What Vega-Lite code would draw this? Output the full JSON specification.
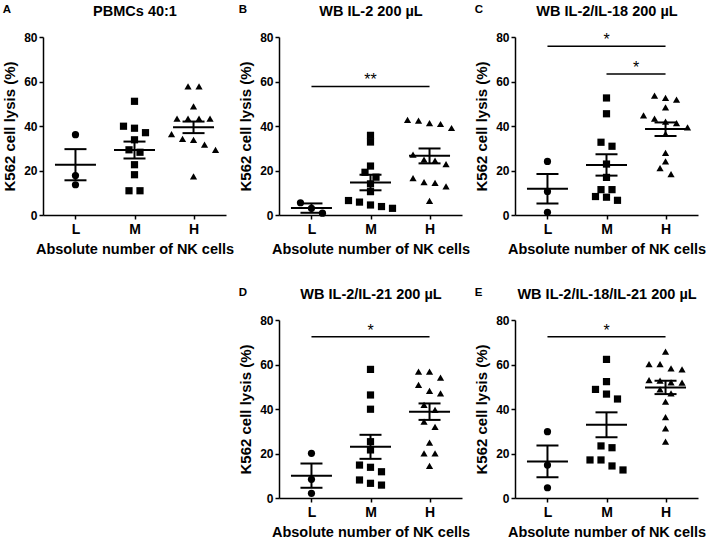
{
  "$schema": "https://vega.github.io/schema/vega-lite/v6.json",
  "background": "white",
  "padding": {"left": 2, "top": 3, "right": 2, "bottom": 2},
  "bounds": "flush",
  "datasets": {
    "pts": [
      {"panel":"A","group":"L","value":36.1},{"panel":"A","group":"L","value":17.7},{"panel":"A","group":"L","value":13.6},
      {"panel":"A","group":"M","value":51.1},{"panel":"A","group":"M","value":39.9},{"panel":"A","group":"M","value":39.0},{"panel":"A","group":"M","value":37.0},{"panel":"A","group":"M","value":33.8},{"panel":"A","group":"M","value":29.3},{"panel":"A","group":"M","value":28.2},{"panel":"A","group":"M","value":22.6},{"panel":"A","group":"M","value":18.1},{"panel":"A","group":"M","value":10.9},{"panel":"A","group":"M","value":10.9},
      {"panel":"A","group":"H","value":57.8},{"panel":"A","group":"H","value":57.8},{"panel":"A","group":"H","value":48.8},{"panel":"A","group":"H","value":43.3},{"panel":"A","group":"H","value":43.3},{"panel":"A","group":"H","value":43.3},{"panel":"A","group":"H","value":43.3},{"panel":"A","group":"H","value":36.4},{"panel":"A","group":"H","value":34.2},{"panel":"A","group":"H","value":33.8},{"panel":"A","group":"H","value":31.6},{"panel":"A","group":"H","value":29.3},{"panel":"A","group":"H","value":17.4},
      {"panel":"B","group":"L","value":5.5},{"panel":"B","group":"L","value":3.0},{"panel":"B","group":"L","value":0.8},
      {"panel":"B","group":"M","value":35.8},{"panel":"B","group":"M","value":32.8},{"panel":"B","group":"M","value":22.0},{"panel":"B","group":"M","value":19.2},{"panel":"B","group":"M","value":17.0},{"panel":"B","group":"M","value":14.0},{"panel":"B","group":"M","value":10.5},{"panel":"B","group":"M","value":6.5},{"panel":"B","group":"M","value":5.8},{"panel":"B","group":"M","value":4.5},{"panel":"B","group":"M","value":3.8},{"panel":"B","group":"M","value":3.0},
      {"panel":"B","group":"H","value":42.8},{"panel":"B","group":"H","value":42.4},{"panel":"B","group":"H","value":41.3},{"panel":"B","group":"H","value":40.9},{"panel":"B","group":"H","value":39.1},{"panel":"B","group":"H","value":27.1},{"panel":"B","group":"H","value":24.9},{"panel":"B","group":"H","value":24.4},{"panel":"B","group":"H","value":22.9},{"panel":"B","group":"H","value":16.6},{"panel":"B","group":"H","value":14.8},{"panel":"B","group":"H","value":14.4},{"panel":"B","group":"H","value":12.9},{"panel":"B","group":"H","value":6.4},
      {"panel":"C","group":"L","value":24.1},{"panel":"C","group":"L","value":10.6},{"panel":"C","group":"L","value":1.2},
      {"panel":"C","group":"M","value":52.6},{"panel":"C","group":"M","value":45.5},{"panel":"C","group":"M","value":32.7},{"panel":"C","group":"M","value":30.9},{"panel":"C","group":"M","value":22.9},{"panel":"C","group":"M","value":16.9},{"panel":"C","group":"M","value":11.4},{"panel":"C","group":"M","value":11.4},{"panel":"C","group":"M","value":8.3},{"panel":"C","group":"M","value":8.0},{"panel":"C","group":"M","value":6.6},
      {"panel":"C","group":"H","value":53.6},{"panel":"C","group":"H","value":52.6},{"panel":"C","group":"H","value":51.8},{"panel":"C","group":"H","value":48.4},{"panel":"C","group":"H","value":44.8},{"panel":"C","group":"H","value":43.3},{"panel":"C","group":"H","value":42.0},{"panel":"C","group":"H","value":41.3},{"panel":"C","group":"H","value":39.4},{"panel":"C","group":"H","value":36.5},{"panel":"C","group":"H","value":27.9},{"panel":"C","group":"H","value":24.1},{"panel":"C","group":"H","value":21.1},{"panel":"C","group":"H","value":18.4},
      {"panel":"D","group":"L","value":20.1},{"panel":"D","group":"L","value":8.4},{"panel":"D","group":"L","value":2.1},
      {"panel":"D","group":"M","value":57.8},{"panel":"D","group":"M","value":46.3},{"panel":"D","group":"M","value":39.9},{"panel":"D","group":"M","value":25.3},{"panel":"D","group":"M","value":21.6},{"panel":"D","group":"M","value":14.8},{"panel":"D","group":"M","value":13.8},{"panel":"D","group":"M","value":11.8},{"panel":"D","group":"M","value":8.1},{"panel":"D","group":"M","value":6.6},{"panel":"D","group":"M","value":5.8},
      {"panel":"D","group":"H","value":56.8},{"panel":"D","group":"H","value":56.8},{"panel":"D","group":"H","value":54.1},{"panel":"D","group":"H","value":50.8},{"panel":"D","group":"H","value":48.2},{"panel":"D","group":"H","value":47.0},{"panel":"D","group":"H","value":41.8},{"panel":"D","group":"H","value":39.6},{"panel":"D","group":"H","value":34.3},{"panel":"D","group":"H","value":32.0},{"panel":"D","group":"H","value":24.9},{"panel":"D","group":"H","value":20.1},{"panel":"D","group":"H","value":20.1},{"panel":"D","group":"H","value":14.4},
      {"panel":"E","group":"L","value":29.8},{"panel":"E","group":"L","value":14.8},{"panel":"E","group":"L","value":4.6},
      {"panel":"E","group":"M","value":62.3},{"panel":"E","group":"M","value":52.3},{"panel":"E","group":"M","value":48.8},{"panel":"E","group":"M","value":46.7},{"panel":"E","group":"M","value":44.5},{"panel":"E","group":"M","value":23.4},{"panel":"E","group":"M","value":22.6},{"panel":"E","group":"M","value":17.1},{"panel":"E","group":"M","value":17.1},{"panel":"E","group":"M","value":14.4},{"panel":"E","group":"M","value":12.6},
      {"panel":"E","group":"H","value":65.8},{"panel":"E","group":"H","value":60.2},{"panel":"E","group":"H","value":60.2},{"panel":"E","group":"H","value":58.3},{"panel":"E","group":"H","value":57.8},{"panel":"E","group":"H","value":53.0},{"panel":"E","group":"H","value":52.7},{"panel":"E","group":"H","value":52.0},{"panel":"E","group":"H","value":51.8},{"panel":"E","group":"H","value":48.8},{"panel":"E","group":"H","value":47.0},{"panel":"E","group":"H","value":43.3},{"panel":"E","group":"H","value":36.3},{"panel":"E","group":"H","value":31.3},{"panel":"E","group":"H","value":25.3}
    ],
    "sum": [
      {"panel":"A","group":"L","mean":22.6,"lo":15.6,"hi":29.6},
      {"panel":"A","group":"M","mean":29.2,"lo":25.4,"hi":33.0},
      {"panel":"A","group":"H","mean":39.4,"lo":36.8,"hi":42.0},
      {"panel":"B","group":"L","mean":3.1,"lo":1.0,"hi":5.2},
      {"panel":"B","group":"M","mean":14.6,"lo":11.1,"hi":18.1},
      {"panel":"B","group":"H","mean":26.6,"lo":23.2,"hi":29.9},
      {"panel":"C","group":"L","mean":11.8,"lo":5.2,"hi":18.4},
      {"panel":"C","group":"M","mean":22.5,"lo":17.7,"hi":27.3},
      {"panel":"C","group":"H","mean":38.6,"lo":35.5,"hi":41.6},
      {"panel":"D","group":"L","mean":10.0,"lo":4.6,"hi":15.5},
      {"panel":"D","group":"M","mean":23.0,"lo":17.6,"hi":28.4},
      {"panel":"D","group":"H","mean":38.8,"lo":35.1,"hi":42.5},
      {"panel":"E","group":"L","mean":16.4,"lo":9.3,"hi":23.6},
      {"panel":"E","group":"M","mean":32.9,"lo":27.3,"hi":38.5},
      {"panel":"E","group":"H","mean":49.7,"lo":46.7,"hi":52.7}
    ],
    "sig": [
      {"panel":"B","from":"L","to":"H","y":57.8,"label":"**"},
      {"panel":"C","from":"L","to":"H","y":75.8,"label":"*"},
      {"panel":"C","from":"M","to":"H","y":63.4,"label":"*"},
      {"panel":"D","from":"L","to":"H","y":72.5,"label":"*"},
      {"panel":"E","from":"L","to":"H","y":72.5,"label":"*"}
    ]
  },
  "columns": 3,
  "spacing": {"row": 105, "column": 53},
  "concat": [
    {
      "title": {"text": "A"},
      "width": 183, "height": 178,
      "resolve": {"axis": {"x": "independent"}},
      "layer": [
        {
          "data": {"name": "pts"},
          "transform": [
            {"filter": "datum.panel === 'A'"},
            {"window": [{"op": "lag", "field": "value", "as": "prev"}], "groupby": ["group"], "sort": [{"field": "value", "order": "descending"}]},
            {"calculate": "datum.prev == null || datum.prev - datum.value > 2.8 ? 1 : 0", "as": "brk"},
            {"window": [{"op": "sum", "field": "brk", "as": "cid"}], "groupby": ["group"], "sort": [{"field": "value", "order": "descending"}]},
            {"window": [{"op": "row_number", "as": "r"}, {"op": "count", "as": "n"}], "groupby": ["group", "cid"], "sort": [{"field": "value", "order": "descending"}], "frame": [null, null]},
            {"calculate": "datum.r - (datum.n + 1) / 2", "as": "off"}
          ],
          "mark": {"type": "point", "filled": true, "color": "black", "opacity": 1},
          "encoding": {
            "x": {"field": "group", "type": "nominal", "scale": {"type": "point", "domain": ["L","M","H"], "padding": 0.55}, "axis": {"title": "Absolute number of NK cells"}},
            "xOffset": {"field": "off", "type": "quantitative", "scale": {"domain": [-1, 1], "range": [-11, 11]}},
            "y": {"field": "value", "type": "quantitative", "scale": {"domain": [0, 80], "nice": false}, "axis": {"title": "K562 cell lysis (%)", "values": [0,20,40,60,80]}},
            "shape": {"field": "group", "type": "nominal", "scale": {"domain": ["L","M","H"], "range": ["circle","square","triangle-up"]}, "legend": null},
            "size": {"field": "group", "type": "nominal", "scale": {"domain": ["L","M","H"], "range": [52, 52, 66]}, "legend": null}
          }
        },
        {
          "data": {"name": "sum"},
          "transform": [{"filter": "datum.panel === 'A'"}],
          "mark": {"type": "tick", "size": 41, "thickness": 2, "color": "black", "opacity": 1},
          "encoding": {
            "x": {"field": "group", "type": "nominal", "scale": {"type": "point", "domain": ["L","M","H"], "padding": 0.55}, "axis": {"orient": "top", "title": "PBMCs 40:1", "labels": false, "ticks": false, "domain": false, "titlePadding": 19, "titleFontSize": 14.5}},
            "y": {"field": "mean", "type": "quantitative", "axis": {"title": "K562 cell lysis (%)", "values": [0,20,40,60,80]}}
          }
        },
        {
          "data": {"name": "sum"},
          "transform": [{"filter": "datum.panel === 'A'"}],
          "mark": {"type": "rule", "strokeWidth": 2, "color": "black"},
          "encoding": {
            "x": {"field": "group", "type": "nominal", "axis": null},
            "y": {"field": "lo", "type": "quantitative", "axis": {"title": "K562 cell lysis (%)", "values": [0,20,40,60,80]}},
            "y2": {"field": "hi"}
          }
        },
        {
          "data": {"name": "sum"},
          "transform": [{"filter": "datum.panel === 'A'"}],
          "mark": {"type": "tick", "size": 22, "thickness": 2, "color": "black", "opacity": 1},
          "encoding": {
            "x": {"field": "group", "type": "nominal", "axis": null},
            "y": {"field": "lo", "type": "quantitative", "axis": {"title": "K562 cell lysis (%)", "values": [0,20,40,60,80]}}
          }
        },
        {
          "data": {"name": "sum"},
          "transform": [{"filter": "datum.panel === 'A'"}],
          "mark": {"type": "tick", "size": 22, "thickness": 2, "color": "black", "opacity": 1},
          "encoding": {
            "x": {"field": "group", "type": "nominal", "axis": null},
            "y": {"field": "hi", "type": "quantitative", "axis": {"title": "K562 cell lysis (%)", "values": [0,20,40,60,80]}}
          }
        }
      ]
    },
    {
      "title": {"text": "B"},
      "width": 183, "height": 178,
      "resolve": {"axis": {"x": "independent"}},
      "layer": [
        {
          "data": {"name": "pts"},
          "transform": [
            {"filter": "datum.panel === 'B'"},
            {"window": [{"op": "lag", "field": "value", "as": "prev"}], "groupby": ["group"], "sort": [{"field": "value", "order": "descending"}]},
            {"calculate": "datum.prev == null || datum.prev - datum.value > 2.8 ? 1 : 0", "as": "brk"},
            {"window": [{"op": "sum", "field": "brk", "as": "cid"}], "groupby": ["group"], "sort": [{"field": "value", "order": "descending"}]},
            {"window": [{"op": "row_number", "as": "r"}, {"op": "count", "as": "n"}], "groupby": ["group", "cid"], "sort": [{"field": "value", "order": "descending"}], "frame": [null, null]},
            {"calculate": "datum.r - (datum.n + 1) / 2", "as": "off"}
          ],
          "mark": {"type": "point", "filled": true, "color": "black", "opacity": 1},
          "encoding": {
            "x": {"field": "group", "type": "nominal", "scale": {"type": "point", "domain": ["L","M","H"], "padding": 0.55}, "axis": {"title": "Absolute number of NK cells"}},
            "xOffset": {"field": "off", "type": "quantitative", "scale": {"domain": [-1, 1], "range": [-11, 11]}},
            "y": {"field": "value", "type": "quantitative", "scale": {"domain": [0, 80], "nice": false}, "axis": {"title": "K562 cell lysis (%)", "values": [0,20,40,60,80]}},
            "shape": {"field": "group", "type": "nominal", "scale": {"domain": ["L","M","H"], "range": ["circle","square","triangle-up"]}, "legend": null},
            "size": {"field": "group", "type": "nominal", "scale": {"domain": ["L","M","H"], "range": [52, 52, 66]}, "legend": null}
          }
        },
        {
          "data": {"name": "sum"},
          "transform": [{"filter": "datum.panel === 'B'"}],
          "mark": {"type": "tick", "size": 41, "thickness": 2, "color": "black", "opacity": 1},
          "encoding": {
            "x": {"field": "group", "type": "nominal", "scale": {"type": "point", "domain": ["L","M","H"], "padding": 0.55}, "axis": {"orient": "top", "title": "WB IL-2 200 µL", "labels": false, "ticks": false, "domain": false, "titlePadding": 19, "titleFontSize": 14.5}},
            "y": {"field": "mean", "type": "quantitative", "axis": {"title": "K562 cell lysis (%)", "values": [0,20,40,60,80]}}
          }
        },
        {
          "data": {"name": "sum"},
          "transform": [{"filter": "datum.panel === 'B'"}],
          "mark": {"type": "rule", "strokeWidth": 2, "color": "black"},
          "encoding": {
            "x": {"field": "group", "type": "nominal", "axis": null},
            "y": {"field": "lo", "type": "quantitative", "axis": {"title": "K562 cell lysis (%)", "values": [0,20,40,60,80]}},
            "y2": {"field": "hi"}
          }
        },
        {
          "data": {"name": "sum"},
          "transform": [{"filter": "datum.panel === 'B'"}],
          "mark": {"type": "tick", "size": 22, "thickness": 2, "color": "black", "opacity": 1},
          "encoding": {
            "x": {"field": "group", "type": "nominal", "axis": null},
            "y": {"field": "lo", "type": "quantitative", "axis": {"title": "K562 cell lysis (%)", "values": [0,20,40,60,80]}}
          }
        },
        {
          "data": {"name": "sum"},
          "transform": [{"filter": "datum.panel === 'B'"}],
          "mark": {"type": "tick", "size": 22, "thickness": 2, "color": "black", "opacity": 1},
          "encoding": {
            "x": {"field": "group", "type": "nominal", "axis": null},
            "y": {"field": "hi", "type": "quantitative", "axis": {"title": "K562 cell lysis (%)", "values": [0,20,40,60,80]}}
          }
        },
        {
          "data": {"name": "sig"},
          "transform": [{"filter": "datum.panel === 'B'"}],
          "mark": {"type": "rule", "strokeWidth": 1.5, "color": "black"},
          "encoding": {
            "x": {"field": "from", "type": "nominal", "axis": null},
            "x2": {"field": "to"},
            "y": {"field": "y", "type": "quantitative", "axis": {"title": "K562 cell lysis (%)", "values": [0,20,40,60,80]}}
          }
        },
        {
          "data": {"name": "sig"},
          "transform": [{"filter": "datum.panel === 'B' && datum.from === 'L'"}],
          "mark": {"type": "text", "fontSize": 16, "font": "Liberation Sans", "baseline": "alphabetic", "dy": -1, "color": "black"},
          "encoding": {
            "x": {"datum": "M", "type": "nominal", "axis": null},
            "y": {"field": "y", "type": "quantitative", "axis": {"title": "K562 cell lysis (%)", "values": [0,20,40,60,80]}},
            "text": {"field": "label"}
          }
        }
      ]
    },
    {
      "title": {"text": "C"},
      "width": 183, "height": 178,
      "resolve": {"axis": {"x": "independent"}},
      "layer": [
        {
          "data": {"name": "pts"},
          "transform": [
            {"filter": "datum.panel === 'C'"},
            {"window": [{"op": "lag", "field": "value", "as": "prev"}], "groupby": ["group"], "sort": [{"field": "value", "order": "descending"}]},
            {"calculate": "datum.prev == null || datum.prev - datum.value > 2.8 ? 1 : 0", "as": "brk"},
            {"window": [{"op": "sum", "field": "brk", "as": "cid"}], "groupby": ["group"], "sort": [{"field": "value", "order": "descending"}]},
            {"window": [{"op": "row_number", "as": "r"}, {"op": "count", "as": "n"}], "groupby": ["group", "cid"], "sort": [{"field": "value", "order": "descending"}], "frame": [null, null]},
            {"calculate": "datum.r - (datum.n + 1) / 2", "as": "off"}
          ],
          "mark": {"type": "point", "filled": true, "color": "black", "opacity": 1},
          "encoding": {
            "x": {"field": "group", "type": "nominal", "scale": {"type": "point", "domain": ["L","M","H"], "padding": 0.55}, "axis": {"title": "Absolute number of NK cells"}},
            "xOffset": {"field": "off", "type": "quantitative", "scale": {"domain": [-1, 1], "range": [-11, 11]}},
            "y": {"field": "value", "type": "quantitative", "scale": {"domain": [0, 80], "nice": false}, "axis": {"title": "K562 cell lysis (%)", "values": [0,20,40,60,80]}},
            "shape": {"field": "group", "type": "nominal", "scale": {"domain": ["L","M","H"], "range": ["circle","square","triangle-up"]}, "legend": null},
            "size": {"field": "group", "type": "nominal", "scale": {"domain": ["L","M","H"], "range": [52, 52, 66]}, "legend": null}
          }
        },
        {
          "data": {"name": "sum"},
          "transform": [{"filter": "datum.panel === 'C'"}],
          "mark": {"type": "tick", "size": 41, "thickness": 2, "color": "black", "opacity": 1},
          "encoding": {
            "x": {"field": "group", "type": "nominal", "scale": {"type": "point", "domain": ["L","M","H"], "padding": 0.55}, "axis": {"orient": "top", "title": "WB IL-2/IL-18 200 µL", "labels": false, "ticks": false, "domain": false, "titlePadding": 19, "titleFontSize": 14.5}},
            "y": {"field": "mean", "type": "quantitative", "axis": {"title": "K562 cell lysis (%)", "values": [0,20,40,60,80]}}
          }
        },
        {
          "data": {"name": "sum"},
          "transform": [{"filter": "datum.panel === 'C'"}],
          "mark": {"type": "rule", "strokeWidth": 2, "color": "black"},
          "encoding": {
            "x": {"field": "group", "type": "nominal", "axis": null},
            "y": {"field": "lo", "type": "quantitative", "axis": {"title": "K562 cell lysis (%)", "values": [0,20,40,60,80]}},
            "y2": {"field": "hi"}
          }
        },
        {
          "data": {"name": "sum"},
          "transform": [{"filter": "datum.panel === 'C'"}],
          "mark": {"type": "tick", "size": 22, "thickness": 2, "color": "black", "opacity": 1},
          "encoding": {
            "x": {"field": "group", "type": "nominal", "axis": null},
            "y": {"field": "lo", "type": "quantitative", "axis": {"title": "K562 cell lysis (%)", "values": [0,20,40,60,80]}}
          }
        },
        {
          "data": {"name": "sum"},
          "transform": [{"filter": "datum.panel === 'C'"}],
          "mark": {"type": "tick", "size": 22, "thickness": 2, "color": "black", "opacity": 1},
          "encoding": {
            "x": {"field": "group", "type": "nominal", "axis": null},
            "y": {"field": "hi", "type": "quantitative", "axis": {"title": "K562 cell lysis (%)", "values": [0,20,40,60,80]}}
          }
        },
        {
          "data": {"name": "sig"},
          "transform": [{"filter": "datum.panel === 'C'"}],
          "mark": {"type": "rule", "strokeWidth": 1.5, "color": "black"},
          "encoding": {
            "x": {"field": "from", "type": "nominal", "axis": null},
            "x2": {"field": "to"},
            "y": {"field": "y", "type": "quantitative", "axis": {"title": "K562 cell lysis (%)", "values": [0,20,40,60,80]}}
          }
        },
        {
          "data": {"name": "sig"},
          "transform": [{"filter": "datum.panel === 'C' && datum.from === 'L'"}],
          "mark": {"type": "text", "fontSize": 16, "font": "Liberation Sans", "baseline": "alphabetic", "dy": -1, "color": "black"},
          "encoding": {
            "x": {"datum": "M", "type": "nominal", "axis": null},
            "y": {"field": "y", "type": "quantitative", "axis": {"title": "K562 cell lysis (%)", "values": [0,20,40,60,80]}},
            "text": {"field": "label"}
          }
        },
        {
          "data": {"name": "sig"},
          "transform": [{"filter": "datum.panel === 'C' && datum.from === 'M'"}],
          "mark": {"type": "text", "fontSize": 16, "font": "Liberation Sans", "baseline": "alphabetic", "dy": -1, "dx": -29.5, "color": "black"},
          "encoding": {
            "x": {"datum": "H", "type": "nominal", "axis": null},
            "y": {"field": "y", "type": "quantitative", "axis": {"title": "K562 cell lysis (%)", "values": [0,20,40,60,80]}},
            "text": {"field": "label"}
          }
        }
      ]
    },
    {
      "width": 183, "height": 178,
      "data": {"values": []},
      "mark": "point",
      "encoding": {}
    },
    {
      "title": {"text": "D"},
      "width": 183, "height": 178,
      "resolve": {"axis": {"x": "independent"}},
      "layer": [
        {
          "data": {"name": "pts"},
          "transform": [
            {"filter": "datum.panel === 'D'"},
            {"window": [{"op": "lag", "field": "value", "as": "prev"}], "groupby": ["group"], "sort": [{"field": "value", "order": "descending"}]},
            {"calculate": "datum.prev == null || datum.prev - datum.value > 2.8 ? 1 : 0", "as": "brk"},
            {"window": [{"op": "sum", "field": "brk", "as": "cid"}], "groupby": ["group"], "sort": [{"field": "value", "order": "descending"}]},
            {"window": [{"op": "row_number", "as": "r"}, {"op": "count", "as": "n"}], "groupby": ["group", "cid"], "sort": [{"field": "value", "order": "descending"}], "frame": [null, null]},
            {"calculate": "datum.r - (datum.n + 1) / 2", "as": "off"}
          ],
          "mark": {"type": "point", "filled": true, "color": "black", "opacity": 1},
          "encoding": {
            "x": {"field": "group", "type": "nominal", "scale": {"type": "point", "domain": ["L","M","H"], "padding": 0.55}, "axis": {"title": "Absolute number of NK cells"}},
            "xOffset": {"field": "off", "type": "quantitative", "scale": {"domain": [-1, 1], "range": [-11, 11]}},
            "y": {"field": "value", "type": "quantitative", "scale": {"domain": [0, 80], "nice": false}, "axis": {"title": "K562 cell lysis (%)", "values": [0,20,40,60,80]}},
            "shape": {"field": "group", "type": "nominal", "scale": {"domain": ["L","M","H"], "range": ["circle","square","triangle-up"]}, "legend": null},
            "size": {"field": "group", "type": "nominal", "scale": {"domain": ["L","M","H"], "range": [52, 52, 66]}, "legend": null}
          }
        },
        {
          "data": {"name": "sum"},
          "transform": [{"filter": "datum.panel === 'D'"}],
          "mark": {"type": "tick", "size": 41, "thickness": 2, "color": "black", "opacity": 1},
          "encoding": {
            "x": {"field": "group", "type": "nominal", "scale": {"type": "point", "domain": ["L","M","H"], "padding": 0.55}, "axis": {"orient": "top", "title": "WB IL-2/IL-21 200 µL", "labels": false, "ticks": false, "domain": false, "titlePadding": 19, "titleFontSize": 14.5}},
            "y": {"field": "mean", "type": "quantitative", "axis": {"title": "K562 cell lysis (%)", "values": [0,20,40,60,80]}}
          }
        },
        {
          "data": {"name": "sum"},
          "transform": [{"filter": "datum.panel === 'D'"}],
          "mark": {"type": "rule", "strokeWidth": 2, "color": "black"},
          "encoding": {
            "x": {"field": "group", "type": "nominal", "axis": null},
            "y": {"field": "lo", "type": "quantitative", "axis": {"title": "K562 cell lysis (%)", "values": [0,20,40,60,80]}},
            "y2": {"field": "hi"}
          }
        },
        {
          "data": {"name": "sum"},
          "transform": [{"filter": "datum.panel === 'D'"}],
          "mark": {"type": "tick", "size": 22, "thickness": 2, "color": "black", "opacity": 1},
          "encoding": {
            "x": {"field": "group", "type": "nominal", "axis": null},
            "y": {"field": "lo", "type": "quantitative", "axis": {"title": "K562 cell lysis (%)", "values": [0,20,40,60,80]}}
          }
        },
        {
          "data": {"name": "sum"},
          "transform": [{"filter": "datum.panel === 'D'"}],
          "mark": {"type": "tick", "size": 22, "thickness": 2, "color": "black", "opacity": 1},
          "encoding": {
            "x": {"field": "group", "type": "nominal", "axis": null},
            "y": {"field": "hi", "type": "quantitative", "axis": {"title": "K562 cell lysis (%)", "values": [0,20,40,60,80]}}
          }
        },
        {
          "data": {"name": "sig"},
          "transform": [{"filter": "datum.panel === 'D'"}],
          "mark": {"type": "rule", "strokeWidth": 1.5, "color": "black"},
          "encoding": {
            "x": {"field": "from", "type": "nominal", "axis": null},
            "x2": {"field": "to"},
            "y": {"field": "y", "type": "quantitative", "axis": {"title": "K562 cell lysis (%)", "values": [0,20,40,60,80]}}
          }
        },
        {
          "data": {"name": "sig"},
          "transform": [{"filter": "datum.panel === 'D' && datum.from === 'L'"}],
          "mark": {"type": "text", "fontSize": 16, "font": "Liberation Sans", "baseline": "alphabetic", "dy": -1, "color": "black"},
          "encoding": {
            "x": {"datum": "M", "type": "nominal", "axis": null},
            "y": {"field": "y", "type": "quantitative", "axis": {"title": "K562 cell lysis (%)", "values": [0,20,40,60,80]}},
            "text": {"field": "label"}
          }
        }
      ]
    },
    {
      "title": {"text": "E"},
      "width": 183, "height": 178,
      "resolve": {"axis": {"x": "independent"}},
      "layer": [
        {
          "data": {"name": "pts"},
          "transform": [
            {"filter": "datum.panel === 'E'"},
            {"window": [{"op": "lag", "field": "value", "as": "prev"}], "groupby": ["group"], "sort": [{"field": "value", "order": "descending"}]},
            {"calculate": "datum.prev == null || datum.prev - datum.value > 2.8 ? 1 : 0", "as": "brk"},
            {"window": [{"op": "sum", "field": "brk", "as": "cid"}], "groupby": ["group"], "sort": [{"field": "value", "order": "descending"}]},
            {"window": [{"op": "row_number", "as": "r"}, {"op": "count", "as": "n"}], "groupby": ["group", "cid"], "sort": [{"field": "value", "order": "descending"}], "frame": [null, null]},
            {"calculate": "datum.r - (datum.n + 1) / 2", "as": "off"}
          ],
          "mark": {"type": "point", "filled": true, "color": "black", "opacity": 1},
          "encoding": {
            "x": {"field": "group", "type": "nominal", "scale": {"type": "point", "domain": ["L","M","H"], "padding": 0.55}, "axis": {"title": "Absolute number of NK cells"}},
            "xOffset": {"field": "off", "type": "quantitative", "scale": {"domain": [-1, 1], "range": [-11, 11]}},
            "y": {"field": "value", "type": "quantitative", "scale": {"domain": [0, 80], "nice": false}, "axis": {"title": "K562 cell lysis (%)", "values": [0,20,40,60,80]}},
            "shape": {"field": "group", "type": "nominal", "scale": {"domain": ["L","M","H"], "range": ["circle","square","triangle-up"]}, "legend": null},
            "size": {"field": "group", "type": "nominal", "scale": {"domain": ["L","M","H"], "range": [52, 52, 66]}, "legend": null}
          }
        },
        {
          "data": {"name": "sum"},
          "transform": [{"filter": "datum.panel === 'E'"}],
          "mark": {"type": "tick", "size": 41, "thickness": 2, "color": "black", "opacity": 1},
          "encoding": {
            "x": {"field": "group", "type": "nominal", "scale": {"type": "point", "domain": ["L","M","H"], "padding": 0.55}, "axis": {"orient": "top", "title": "WB IL-2/IL-18/IL-21 200 µL", "labels": false, "ticks": false, "domain": false, "titlePadding": 19, "titleFontSize": 14.5}},
            "y": {"field": "mean", "type": "quantitative", "axis": {"title": "K562 cell lysis (%)", "values": [0,20,40,60,80]}}
          }
        },
        {
          "data": {"name": "sum"},
          "transform": [{"filter": "datum.panel === 'E'"}],
          "mark": {"type": "rule", "strokeWidth": 2, "color": "black"},
          "encoding": {
            "x": {"field": "group", "type": "nominal", "axis": null},
            "y": {"field": "lo", "type": "quantitative", "axis": {"title": "K562 cell lysis (%)", "values": [0,20,40,60,80]}},
            "y2": {"field": "hi"}
          }
        },
        {
          "data": {"name": "sum"},
          "transform": [{"filter": "datum.panel === 'E'"}],
          "mark": {"type": "tick", "size": 22, "thickness": 2, "color": "black", "opacity": 1},
          "encoding": {
            "x": {"field": "group", "type": "nominal", "axis": null},
            "y": {"field": "lo", "type": "quantitative", "axis": {"title": "K562 cell lysis (%)", "values": [0,20,40,60,80]}}
          }
        },
        {
          "data": {"name": "sum"},
          "transform": [{"filter": "datum.panel === 'E'"}],
          "mark": {"type": "tick", "size": 22, "thickness": 2, "color": "black", "opacity": 1},
          "encoding": {
            "x": {"field": "group", "type": "nominal", "axis": null},
            "y": {"field": "hi", "type": "quantitative", "axis": {"title": "K562 cell lysis (%)", "values": [0,20,40,60,80]}}
          }
        },
        {
          "data": {"name": "sig"},
          "transform": [{"filter": "datum.panel === 'E'"}],
          "mark": {"type": "rule", "strokeWidth": 1.5, "color": "black"},
          "encoding": {
            "x": {"field": "from", "type": "nominal", "axis": null},
            "x2": {"field": "to"},
            "y": {"field": "y", "type": "quantitative", "axis": {"title": "K562 cell lysis (%)", "values": [0,20,40,60,80]}}
          }
        },
        {
          "data": {"name": "sig"},
          "transform": [{"filter": "datum.panel === 'E' && datum.from === 'L'"}],
          "mark": {"type": "text", "fontSize": 16, "font": "Liberation Sans", "baseline": "alphabetic", "dy": -1, "color": "black"},
          "encoding": {
            "x": {"datum": "M", "type": "nominal", "axis": null},
            "y": {"field": "y", "type": "quantitative", "axis": {"title": "K562 cell lysis (%)", "values": [0,20,40,60,80]}},
            "text": {"field": "label"}
          }
        }
      ]
    }
  ],
  "config": {
    "view": {"stroke": null},
    "font": "Liberation Sans",
    "title": {"anchor": "start", "frame": "bounds", "fontSize": 11.5, "fontWeight": "bold", "color": "black", "font": "Liberation Sans", "offset": -12},
    "axis": {"grid": false, "domainColor": "black", "domainWidth": 1.5, "tickColor": "black", "tickWidth": 1.5, "tickSize": 4, "labelColor": "black", "labelFont": "Liberation Sans", "labelFontWeight": "bold", "labelFontSize": 12, "titleColor": "black", "titleFont": "Liberation Sans", "titleFontWeight": "bold", "titleFontSize": 15},
    "axisX": {"labelAngle": 0, "labelFontSize": 14, "labelPadding": 3, "titlePadding": 6, "titleFontSize": 14.5},
    "axisY": {"labelPadding": 2, "titlePadding": 6}
  }
}
